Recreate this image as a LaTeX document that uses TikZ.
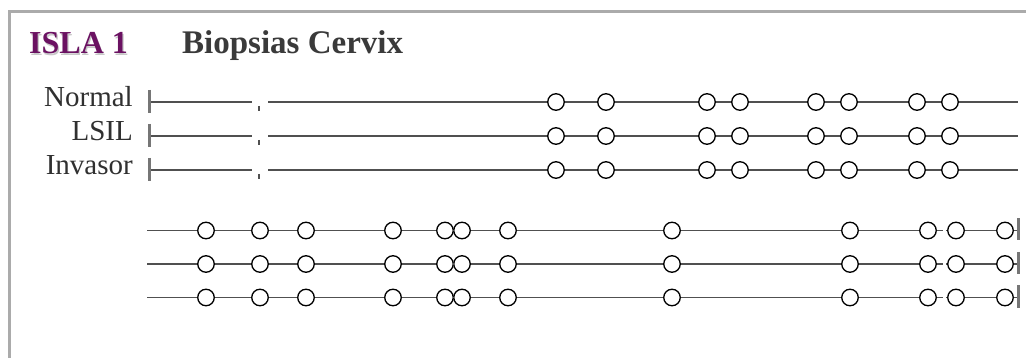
\documentclass[tikz,border=0pt]{standalone}
\usepackage{fontspec}
\setmainfont{Liberation Serif}
\definecolor{framegray}{HTML}{ABABAB}
\definecolor{linegray}{HTML}{505050}
\definecolor{bargray}{HTML}{767676}
\definecolor{islapurple}{HTML}{6B1262}
\definecolor{titlegray}{HTML}{3A3A3A}
\definecolor{labelgray}{HTML}{303030}
\definecolor{shadowgray}{HTML}{C8C8C8}
\begin{document}
\begin{tikzpicture}[x=1pt,y=-1pt,
  dot/.style={circle,draw=black,line width=1.3pt,fill=white,minimum size=16.5pt,inner sep=0pt},
  track/.style={draw=linegray,line width=1.4pt},
  endbar/.style={draw=bargray,line width=3pt},
  tickmark/.style={draw=linegray,line width=1.3pt},
  frameline/.style={draw=framegray,line width=3.3pt},
  rowlabel/.style={anchor=base east,inner sep=0pt,text=labelgray,font=\fontsize{29}{30}\selectfont},
  titletext/.style={anchor=base west,inner sep=0pt,font=\fontsize{32}{34}\selectfont\bfseries}]
\useasboundingbox (0,0) rectangle (1026,358);
\fill[white] (0,0) rectangle (1026,358);
% frame
\draw[frameline] (1026,11.5) -- (9.3,11.5) -- (9.3,358);
% titles
\node[titletext,text=shadowgray] (islashadow) at (30.2,55.2) {ISLA 1};
\node[titletext,text=islapurple] (isla) at (29,54) {ISLA 1};
\node[titletext,text=titlegray,font=\fontsize{33}{35}\selectfont\bfseries] (biop) at (182,54) {Biopsias Cervix};
% row labels
\node[rowlabel] (lnormal) at (133,107) {Normal};
\node[rowlabel] (llsil) at (133,141) {LSIL};
\node[rowlabel] (linvasor) at (133,175) {Invasor};
% upper tracks
\foreach \y/\r in {102/a,136/b,170/c} {
  \coordinate (\r s) at (149,\y);
  \coordinate (\r g1) at (252,\y);
  \coordinate (\r g2) at (268,\y);
  \coordinate (\r t) at (259,\y);
  \coordinate (\r e) at (1018,\y);
  \foreach \x [count=\k] in {556,606,707,740,816,849,917,950}
    \node[dot] (\r\k) at (\x,\y) {};
  \draw[track] (\r s) -- (\r g1);
  \draw[track] (\r g2) -- (\r1) -- (\r2) -- (\r3) -- (\r4) -- (\r5) -- (\r6) -- (\r7) -- (\r8) -- (\r e);
  \draw[endbar] ([yshift=12pt]\r s) -- ([yshift=-11pt]\r s);
  \draw[tickmark] ([yshift=-4pt]\r t) -- ([yshift=-9pt]\r t);
}
% lower tracks
\foreach \y/\r in {230.5/d,264/e,297.5/f} {
  \coordinate (\r s) at (147,\y);
  \coordinate (\r g1) at (943,\y);
  \coordinate (\r g2) at (946,\y);
  \coordinate (\r e) at (1018,\y);
  \foreach \x [count=\k] in {206,260,306,393,445,462,508,672,850,928,956,1005}
    \node[dot] (\r\k) at (\x,\y) {};
  \draw[track] (\r s) -- (\r1) -- (\r2) -- (\r3) -- (\r4) -- (\r5) -- (\r6) -- (\r7) -- (\r8) -- (\r9) -- (\r10) -- (\r g1);
  \draw[track] (\r g2) -- (\r11) -- (\r12) -- (\r e);
  \draw[endbar] ([yshift=12pt]\r e) -- ([yshift=-10pt]\r e);
}
\end{tikzpicture}
\end{document}
